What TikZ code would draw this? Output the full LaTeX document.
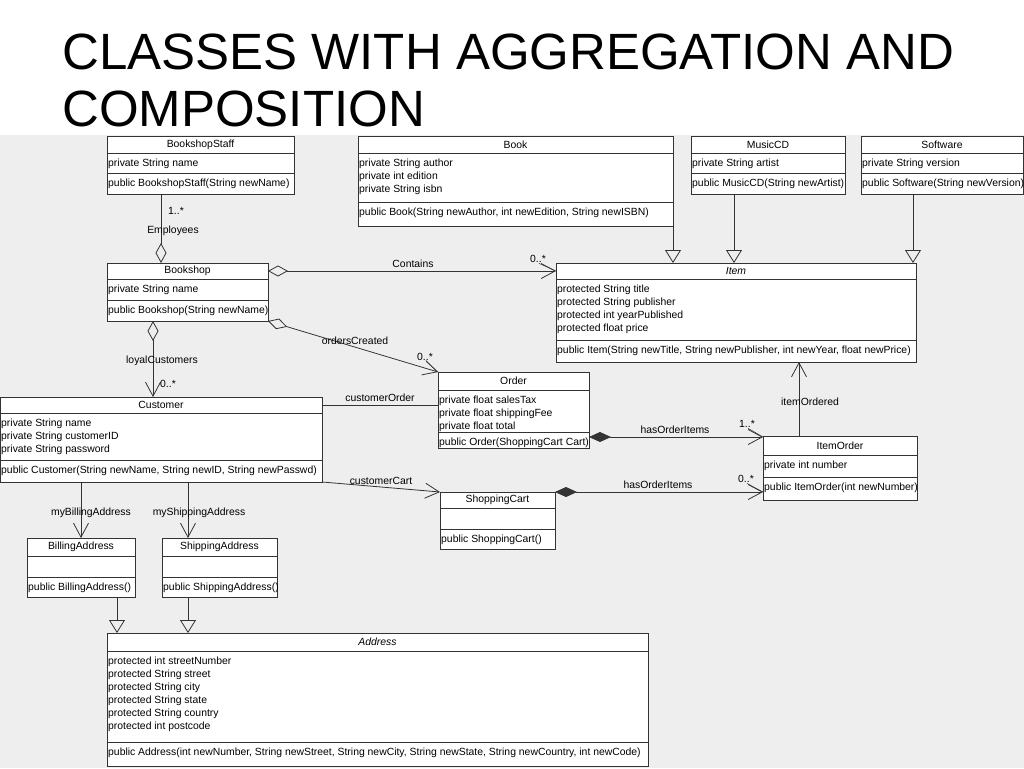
\documentclass[tikz,border=0pt]{standalone}
\usepackage{fontspec}
\setmainfont{Liberation Sans}
\usetikzlibrary{arrows.meta,positioning}
\definecolor{canvas}{HTML}{EEEEEE}
\definecolor{ink}{HTML}{333333}

% one UML class: name, position, width, three row heights, title, attributes, operations
\newcommand{\umlclass}[9]{%
  \node[classbox, minimum width=#3, minimum height=#4+#5+#6] (#1) at #2 {};
  \draw[classline] ([yshift=-#4]#1.north west) -- ([yshift=-#4]#1.north east);
  \draw[classline] ([yshift=-#4-#5]#1.north west) -- ([yshift=-#4-#5]#1.north east);
  \node[classname] (#1-name) at ([yshift=-#4/2]#1.north) {#7};
  \node[members] (#1-attr) at ([yshift=-#4]#1.north west) {\strut#8};
  \node[members] (#1-ops) at ([yshift=-#4-#5]#1.north west) {\strut#9};
}

\begin{document}
\begin{tikzpicture}[x=1pt, y=-1pt,
    umlfont/.style={font=\fontsize{10.4}{13}\selectfont},
    classbox/.style={draw=ink, fill=white, line width=0.9pt, anchor=north west, inner sep=0pt, outer sep=0pt},
    classline/.style={draw=ink, line width=0.9pt},
    classname/.style={umlfont, inner sep=0pt},
    members/.style={umlfont, anchor=north west, align=left, inner xsep=1pt, inner ysep=4.3pt},
    lbl/.style={umlfont, inner sep=0.5pt},
    title/.style={font=\fontsize{51}{57}\selectfont, anchor=base west, inner sep=0pt},
    link/.style={draw=ink, line width=0.8pt},
    nav/.style={link, -{Straight Barb[length=14pt, width=15pt]}},
    aggr/.style={link, {Diamond[open, length=20pt, width=11pt]}-{Straight Barb[length=14pt, width=15pt]}},
    holder/.style={link, {Diamond[open, length=20pt, width=11pt]}-},
    comp/.style={link, {Diamond[length=22pt, width=10pt]}-{Straight Barb[length=14pt, width=15pt]}},
    gen/.style={link, -{Triangle[open, length=13pt, width=16pt]}},
    leader/.style={draw=ink, line width=0.5pt}]
  \useasboundingbox (0,0) rectangle (1024,768);
  \fill[white] (0,0) rectangle (1024,135);
  \fill[canvas] (0,135) rectangle (1024,768);

  \node[title] (title1) at (62,69) {CLASSES WITH AGGREGATION AND};
  \node[title] (title2) at (62,126) {COMPOSITION};

  % classes
  \umlclass{staff}{(107,136)}{187}{17}{20}{21}{BookshopStaff}{private String name}{public BookshopStaff(String newName)}
  \umlclass{book}{(358,136)}{315}{17}{49}{24}{Book}{private String author\\private int edition\\private String isbn}{public Book(String newAuthor, int newEdition, String newISBN)}
  \umlclass{cd}{(691,136)}{154}{17}{20}{21}{MusicCD}{private String artist}{public MusicCD(String newArtist)}
  \umlclass{soft}{(861,136)}{162}{17}{20}{21}{Software}{private String version}{public Software(String newVersion)}
  \umlclass{item}{(556,263)}{360}{16}{61}{22}{\textit{Item}}{protected String title\\protected String publisher\\protected int yearPublished\\protected float price}{public Item(String newTitle, String newPublisher, int newYear, float newPrice)}
  \umlclass{bookshop}{(107,263)}{161}{16}{21}{21}{Bookshop}{private String name}{public Bookshop(String newName)}
  \umlclass{customer}{(0,397)}{322}{16}{47}{22}{Customer}{private String name\\private String customerID\\private String password}{public Customer(String newName, String newID, String newPasswd)}
  \umlclass{order}{(438,372)}{151}{18}{42}{16}{Order}{private float salesTax\\private float shippingFee\\private float total}{public Order(ShoppingCart Cart)}
  \umlclass{itemorder}{(763,436)}{154}{19}{22}{23}{ItemOrder}{private int number}{public ItemOrder(int newNumber)}
  \umlclass{cart}{(440,492)}{115}{16}{21}{20}{ShoppingCart}{}{public ShoppingCart()}
  \umlclass{billing}{(27,538)}{108}{18}{21}{20}{BillingAddress}{}{public BillingAddress()}
  \umlclass{shipping}{(162,538)}{115}{18}{21}{20}{ShippingAddress}{}{public ShippingAddress()}
  \umlclass{address}{(107,633)}{541}{18}{91}{24}{\textit{Address}}{protected int streetNumber\\protected String street\\protected String city\\protected String state\\protected String country\\protected int postcode}{public Address(int newNumber, String newStreet, String newCity, String newState, String newCountry, int newCode)}

  % generalisations
  \draw[gen] (book.south east) -- (book.south east |- item.north);
  \draw[gen] ([xshift=43]cd.south west) -- ([xshift=43]cd.south west |- item.north);
  \draw[gen] ([xshift=52]soft.south west) -- ([xshift=52]soft.south west |- item.north);
  \draw[gen] ([xshift=90]billing.south west) -- ([xshift=90]billing.south west |- address.north);
  \draw[gen] ([xshift=26]shipping.south west) -- ([xshift=26]shipping.south west |- address.north);

  % aggregations
  \draw[holder] ([xshift=54]bookshop.north west) -- ([xshift=54]bookshop.north west |- staff.south);
  \node[lbl] (staff-mult) at (176,211) {1..*};
  \node[lbl] (employees) at (173,231) {Employees};

  \draw[aggr] ([yshift=-8]bookshop.north east) -- ([yshift=-8]bookshop.north east -| item.west);
  \node[lbl] (contains) at (413,264) {Contains};
  \node[lbl] (contains-mult) at (538,259) {0..*};
  \draw[leader] ([xshift=1]contains-mult.south) -- ([yshift=-8]bookshop.north east -| item.west);

  \draw[aggr] (bookshop.south east) -- (order.north west);
  \node[lbl] (orders) at (355,341) {ordersCreated};
  \node[lbl] (orders-mult) at (425,357) {0..*};
  \draw[leader] ([xshift=1]orders-mult.south) -- (order.north west);

  \draw[aggr] ([xshift=46]bookshop.south west) -- ([xshift=46]bookshop.south west |- customer.north);
  \node[lbl] (loyal) at (162,361) {loyalCustomers};
  \node[lbl] (loyal-mult) at (168,384) {0..*};

  % associations
  \draw[link] ([yshift=-8]customer.north east) -- ([yshift=-8]customer.north east -| order.west);
  \node[lbl] (custorder) at (380,398) {customerOrder};

  \draw[nav] (customer.south east) -- (cart.north west);
  \node[lbl] (custcart) at (381,481) {customerCart};

  \draw[nav] ([xshift=54]billing.north west |- customer.south) -- ([xshift=54]billing.north west);
  \node[lbl] (mybilling) at (91,513) {myBillingAddress};
  \draw[nav] ([xshift=26]shipping.north west |- customer.south) -- ([xshift=26]shipping.north west);
  \node[lbl] (myshipping) at (199,513) {myShippingAddress};

  \draw[nav] ([xshift=36]itemorder.north west) -- ([xshift=36]itemorder.north west |- item.south);
  \node[lbl] (itemordered) at (810,402) {itemOrdered};

  % compositions
  \draw[comp] ([yshift=11]order.south east) -- ([yshift=11]order.south east -| itemorder.west);
  \node[lbl] (orderitems) at (675,430) {hasOrderItems};
  \node[lbl] (orderitems-mult) at (747,424) {1..*};
  \draw[leader] ([xshift=1]orderitems-mult.south) -- ([yshift=11]order.south east -| itemorder.west);

  \draw[comp] (cart.north east) -- (cart.north east -| itemorder.west);
  \node[lbl] (cartitems) at (658,485) {hasOrderItems};
  \node[lbl] (cartitems-mult) at (746,479) {0..*};
  \draw[leader] ([xshift=1]cartitems-mult.south) -- (cart.north east -| itemorder.west);
\end{tikzpicture}
\end{document}
